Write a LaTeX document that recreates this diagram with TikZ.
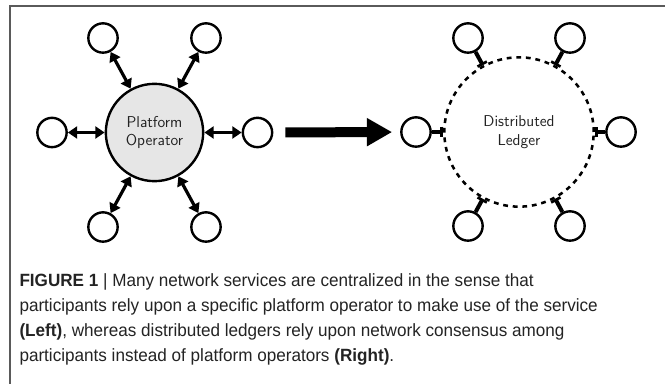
\documentclass[tikz,border=0pt]{standalone}
\usepackage{fontspec}
\newfontfamily\capfont[FakeStretch=0.965]{Liberation Sans}
\usetikzlibrary{arrows.meta}

\definecolor{hubfill}{RGB}{230,230,230}
\definecolor{framegray}{RGB}{90,90,90}
\definecolor{captext}{RGB}{35,35,35}

\tikzset{every picture/.style={line width=0.75pt}}
\tikzset{
  hub/.style={circle, draw, line width=1.8pt, fill=hubfill, minimum size=73pt, inner sep=0pt,
    align=center, font=\sffamily\fontsize{11.8}{14}\selectfont, text=captext},
  ledger/.style={circle, draw, line width=1.9pt, dash pattern={on 3.6pt off 3.6pt},
    minimum size=112pt, inner sep=0pt, align=center, font=\sffamily\fontsize{11.8}{14}\selectfont, text=captext},
  peer/.style={circle, draw, line width=1.8pt, fill=white, minimum size=22pt, inner sep=0pt},
  dblarrow/.style={line width=2.4pt, {Triangle[length=7pt,width=9pt]}-{Triangle[length=7pt,width=9pt]}},
  tie/.style={line width=3pt, {Bar[width=8pt,line width=2pt]}-},
  bigarrow/.style={line width=7.5pt, -{Triangle[length=19pt,width=20pt]}, shorten <=9pt, shorten >=6pt},
  caption/.style={inner sep=0pt, align=left, text=captext, font=\capfont\fontsize{13.3}{18.75}\selectfont}
}

\begin{document}
\begin{tikzpicture}[x=0.75pt,y=0.75pt,yscale=-1,xscale=1]
\useasboundingbox (0,0) rectangle (665,384);

% frame
\draw [color=framegray, line width=0.9pt] (670,6) -- (10,6) -- (10,390);

% left: platform operator
\node [hub] (po) at (154.5,132.5) {Platform\\Operator};
\node [peer] (p0) at (257.5,132.5) {};
\node [peer] (p1) at (206,38) {};
\node [peer] (p2) at (103,38) {};
\node [peer] (p3) at (52,132.5) {};
\node [peer] (p4) at (103,227) {};
\node [peer] (p5) at (206,227) {};
\foreach \i in {0,...,5}
  \draw [dblarrow] (po) -- (p\i);

% right: distributed ledger
\node [ledger] (dl) at (519,132) {Distributed\\Ledger};
\node [peer] (q0) at (621,132) {};
\node [peer] (q1) at (570,38) {};
\node [peer] (q2) at (468,38) {};
\node [peer] (q3) at (416,132) {};
\node [peer] (q4) at (468,226) {};
\node [peer] (q5) at (570,226) {};
\foreach \i in {0,...,5}
  \draw [tie] (dl) -- (q\i);

% transition
\draw [bigarrow] (p0) -- (q3);

% caption
\node [caption, anchor=north west] (cap) at (19,273.5) {\textbf{FIGURE 1} | Many network services are centralized in the sense that\\
participants rely upon a specific platform operator to make use of the service\\
\textbf{(Left)}, whereas distributed ledgers rely upon network consensus among\\
participants instead of platform operators \textbf{(Right)}.};

\end{tikzpicture}
\end{document}
